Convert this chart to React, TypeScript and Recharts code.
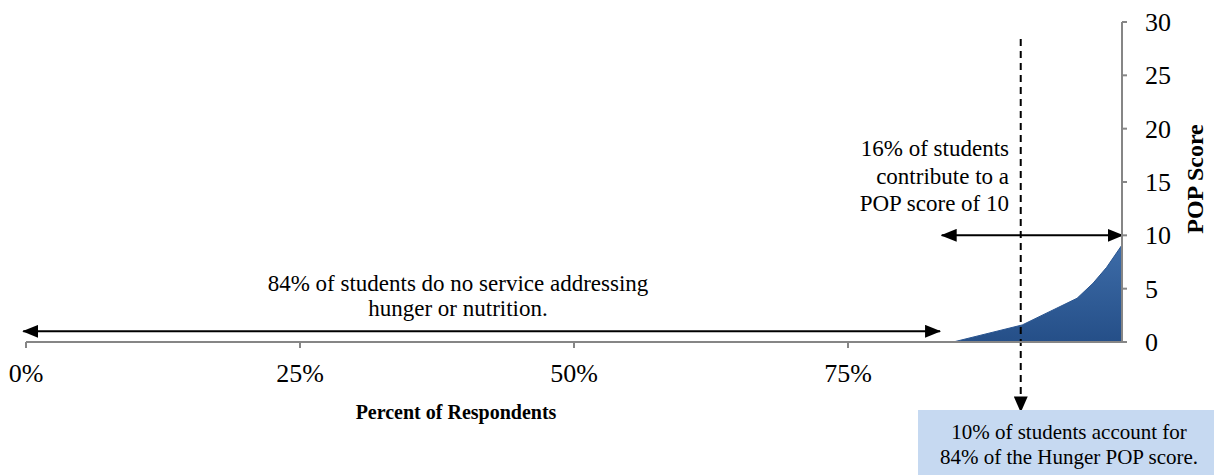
import { ComposedChart, Area, XAxis, YAxis, ReferenceLine } from 'recharts';

// cumulative share of respondents (%) vs POP score
const respondentShare = [84.6, 90.9, 95.9, 97.35, 98.6, 100];
const popScore = [0, 1.6, 4.1, 5.5, 7.0, 9.1];

const xTicks = [0, 25, 50, 75];
const yTicks = [0, 5, 10, 15, 20, 25, 30];

// annotation anchors, in data units
const noServiceArrow = [-0.25, 83.4];
const noServiceLevel = 1;
const contributeArrow = [83.55, 100.05];
const contributeLevel = 10;
const topTenShare = 90.76;
const topTenSpan = [28.4, -5.85];

const data = respondentShare.map((x, i) => ({ x, score: popScore[i] }));

const FONT = '"Liberation Serif", "Times New Roman", serif';

const ArrowLine = (props: any) => (
  <line
    x1={props.x1}
    y1={props.y1}
    x2={props.x2}
    y2={props.y2}
    stroke="#000"
    strokeWidth={2}
    markerStart="url(#arrowHead)"
    markerEnd="url(#arrowHead)"
  />
);

const DashedArrow = (props: any) => (
  <line
    x1={props.x1}
    y1={props.y1}
    x2={props.x2}
    y2={props.y2 - 8}
    stroke="#000"
    strokeWidth={2}
    strokeDasharray="7 5"
    markerEnd="url(#downHead)"
  />
);

// right axis labels sit a bit further from the axis than the default
const ScoreTick = ({ x, y, payload }: any) => (
  <text x={x + 15} y={y} dy="0.35em" textAnchor="start" fill="#000" fontSize={26} fontFamily={FONT}>
    {payload.value}
  </text>
);

export default function App() {
  return (
    <div style={{ position: 'relative', width: 1214, height: 467, fontFamily: FONT, color: '#000' }}>
      <ComposedChart width={1214} height={467} data={data} margin={{ top: 14, right: 0, left: 18, bottom: 0 }}>
        <defs>
          <linearGradient id="popFill" x1="0" y1="0" x2="0" y2="1">
            <stop offset="0%" stopColor="#3d6ca8" />
            <stop offset="100%" stopColor="#254f88" />
          </linearGradient>
          <marker id="arrowHead" viewBox="0 0 16 13" refX="15" refY="6.5" markerWidth="16" markerHeight="13" markerUnits="userSpaceOnUse" orient="auto-start-reverse">
            <path d="M0,0 L16,6.5 L0,13 z" fill="#000" />
          </marker>
          <marker id="downHead" viewBox="0 0 16 14" refX="0" refY="7" markerWidth="16" markerHeight="14" markerUnits="userSpaceOnUse" orient="auto">
            <path d="M0,0 L16,7 L0,14 z" fill="#000" />
          </marker>
        </defs>
        <XAxis
          dataKey="x"
          type="number"
          domain={[0, 100]}
          ticks={xTicks}
          tickFormatter={(v) => `${v}%`}
          stroke="#868686"
          strokeWidth={2}
          tickSize={6}
          tickMargin={16}
          height={133}
          tick={{ fill: '#000', fontSize: 26, fontFamily: FONT }}
          allowDataOverflow
        />
        <YAxis
          orientation="right"
          type="number"
          domain={[0, 30]}
          ticks={yTicks}
          stroke="#868686"
          strokeWidth={2}
          tickSize={5}
          tickMargin={3}
          width={100}
          tick={<ScoreTick />}
        />
        <Area
          type="linear"
          dataKey="score"
          fill="url(#popFill)"
          fillOpacity={1}
          stroke="#2a5590"
          strokeWidth={1}
          isAnimationActive={false}
        />
        <ReferenceLine
          segment={[{ x: noServiceArrow[0], y: noServiceLevel }, { x: noServiceArrow[1], y: noServiceLevel }]}
          ifOverflow="visible"
          shape={ArrowLine}
        />
        <ReferenceLine
          segment={[{ x: contributeArrow[0], y: contributeLevel }, { x: contributeArrow[1], y: contributeLevel }]}
          ifOverflow="visible"
          shape={ArrowLine}
        />
        <ReferenceLine
          segment={[{ x: topTenShare, y: topTenSpan[0] }, { x: topTenShare, y: topTenSpan[1] }]}
          ifOverflow="visible"
          shape={DashedArrow}
        />
      </ComposedChart>

      <div style={{ position: 'absolute', left: 250, top: 263, width: 400, textAlign: 'center', fontSize: 23, lineHeight: '25px' }}>
        84% of students do no service addressing
        <br />
        hunger or nutrition.
      </div>

      <div style={{ position: 'absolute', left: 801, top: 127, width: 200, textAlign: 'right', fontSize: 23, lineHeight: '27.5px' }}>
        16% of students
        <br />
        contribute to a
        <br />
        POP score of 10
      </div>

      <div style={{ position: 'absolute', left: 248, top: 390, width: 400, textAlign: 'center', fontSize: 20, lineHeight: '28px', fontWeight: 'bold' }}>
        Percent of Respondents
      </div>

      <div
        style={{
          position: 'absolute',
          left: 1087,
          top: 157,
          width: 200,
          height: 28,
          textAlign: 'center',
          fontSize: 24,
          lineHeight: '28px',
          fontWeight: 'bold',
          transform: 'rotate(-90deg)',
          transformOrigin: 'center',
        }}
      >
        POP Score
      </div>

      <div
        style={{
          position: 'absolute',
          left: 910,
          top: 402,
          width: 302,
          height: 65,
          boxSizing: 'border-box',
          paddingTop: 10,
          background: '#c6d9f1',
          textAlign: 'center',
          fontSize: 21,
          lineHeight: '25px',
        }}
      >
        10% of students account for
        <br />
        84% of the Hunger POP score.
      </div>
    </div>
  );
}
